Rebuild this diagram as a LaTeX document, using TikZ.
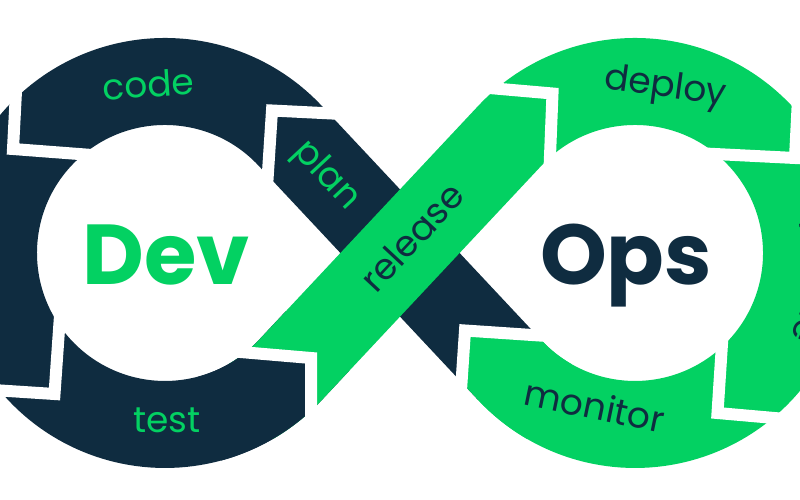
\documentclass[tikz,border=0pt]{standalone}
\usepackage{fontspec}
\setmainfont{Poppins}
\usetikzlibrary{calc,decorations.text}
\definecolor{navy}{RGB}{15,44,64}
\definecolor{lime}{RGB}{3,209,98}
\tikzset{
  band/.style={line width=87pt, line cap=butt, line join=round},
  gapline/.style={white, line width=12pt, line join=miter, line cap=butt},
  lbl/.style={font=\fontsize{36}{40}\selectfont, inner sep=0pt, anchor=base},
  bigword/.style={font=\fontsize{85}{90}\selectfont\bfseries, inner sep=0pt, anchor=base},
}
\begin{document}
\begin{tikzpicture}[x=1pt,y=-1pt]
\useasboundingbox (0,0) rectangle (800,500);
\clip (0,0) rectangle (800,500);
\fill[white] (0,0) rectangle (800,500);
\coordinate (L) at (165,253);
\coordinate (R) at (635,253);
\coordinate (TLu) at (290.2,135.8);
\coordinate (TLl) at (290.2,370.2);
\coordinate (TRu) at (509.8,135.8);
\coordinate (TRl) at (509.8,370.2);
% dark part: plan band, left ring, test tail
\draw[band, navy] (TRl) -- (TLu) arc[start angle=-43.1, end angle=-316.9, radius=171.5] -- ++(27.3,-29.2);
% green part: release band, right ring
\draw[band, lime] ($(L)+(60:171.5)$) arc[start angle=60, end angle=43.1, radius=171.5] -- (TRu) arc[start angle=-136.9, end angle=136.9, radius=171.5];
% test tip restored
\begin{scope}
\clip (311,358) -- (161,345.25) -- (161,595) -- (311,595) -- cycle;
\draw[band, navy] ($(L)+(75:171.5)$) arc[start angle=75, end angle=43.1, radius=171.5] -- ++(27.3,-29.2);
\end{scope}
% monitor tip restored
\begin{scope}
\clip (465,330.5) -- (615,340.55) -- (598.25,590.55) -- (448.25,580.5) -- cycle;
\draw[band, lime] ($(R)+(120:171.5)$) arc[start angle=120, end angle=136.9, radius=171.5] -- ++(-47.8,-51.1);
\end{scope}
% joints
\coordinate (j1) at (272,110.5);
\coordinate (j2) at (13,149);
\coordinate (j3) at (54.5,394);
\coordinate (j4) at (311,358);
\coordinate (j5) at (552.5,93.5);
\coordinate (j6) at (795,158);
\coordinate (j7) at (717.5,413);
\coordinate (j8) at (465,330.5);
\draw[gapline] ($(j1)+100*(1,0.05)$) -- (j1) -- ($(j1)+100*(-0.065,1)$);
\draw[gapline] ($(j2)+100*(0.052,-1)$) -- (j2) -- ($(j2)+100*(1,0.076)$);
\draw[gapline] ($(j3)+100*(0.07,-1)$) -- (j3) -- ($(j3)+100*(-1,-0.065)$);
\draw[gapline] ($(j4)+100*(-1,-0.085)$) -- (j4) -- ($(j4)+100*(0,1)$);
\draw[gapline] ($(j5)+100*(-1,-0.087)$) -- (j5) -- ($(j5)+100*(-0.04,1)$);
\draw[gapline] ($(j6)+100*(0.05,-1)$) -- (j6) -- ($(j6)+100*(-1,-0.05)$);
\draw[gapline] ($(j7)+100*(0.065,-1)$) -- (j7) -- ($(j7)+100*(1,0.088)$);
\draw[gapline] ($(j8)+100*(1,0.067)$) -- (j8) -- ($(j8)+100*(-0.067,1)$);
% labels
\node[lbl, lime, rotate=3.9] (code) at (149,97) {code};
\node[lbl, lime] (test) at (167,432) {test};
\node[lbl, navy, rotate=-8] (deploy) at (664,97) {deploy};
\node[lbl, navy, rotate=-11.7] (monitor) at (592,419) {monitor};
\node[lbl, lime, rotate=-47, anchor=center] (plan) at (326,176) {plan};
\node[lbl, navy, rotate=47, anchor=center] (release) at (412,237) {release};
\node[bigword, lime] (dev) at (166,284) {Dev};
\node[bigword, navy] (ops) at (626,284) {Ops};
\path[decorate, decoration={text along path, text align=center, text color=navy, text={|\fontsize{36}{40}\selectfont|operate}}] ($(R)+(-31:176)$) arc[start angle=-31, end angle=41, radius=176];
\end{tikzpicture}
\end{document}
